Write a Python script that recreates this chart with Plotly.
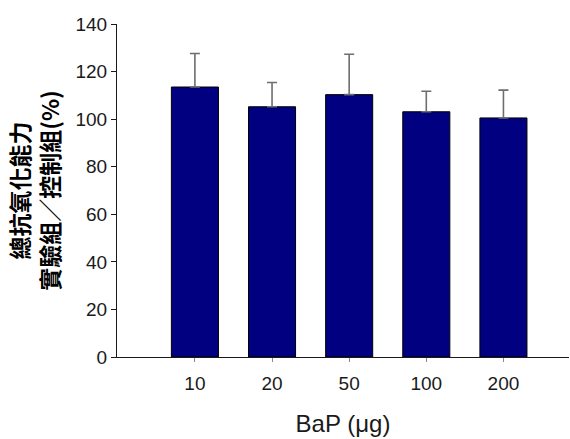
import plotly.graph_objects as go

# BaP dose groups and total antioxidant capacity (experimental / control, %)
doses = ["10", "20", "50", "100", "200"]
capacity = [113.5, 105.2, 110.3, 103.1, 100.5]
capacity_sd = [14.1, 10.2, 17.0, 8.6, 11.7]
y_ticks = [0, 20, 40, 60, 80, 100, 120, 140]

fig = go.Figure()
fig.add_trace(go.Bar(
    x=doses,
    y=capacity,
    width=0.61,
    marker=dict(color="#000080", line=dict(color="#000000", width=1)),
    error_y=dict(
        type="data",
        symmetric=False,
        array=capacity_sd,
        arrayminus=[0] * len(capacity_sd),
        color="#6e6e6e",
        thickness=1.6,
        width=5,
    ),
    showlegend=False,
))

fig.update_layout(
    width=570,
    height=439,
    margin=dict(l=117, r=1, t=23.5, b=82),
    paper_bgcolor="white",
    plot_bgcolor="white",
    font=dict(family="Liberation Sans, Arial, sans-serif", color="#1a1a1a"),
    bargap=0.39,
)

fig.update_xaxes(
    type="category",
    range=[-1.01, 4.85],
    showline=True,
    linecolor="#1a1a1a",
    linewidth=1.2,
    ticks="outside",
    ticklen=4,
    tickcolor="#8a8a8a",
    tickfont=dict(size=19),
    ticklabelstandoff=5,
    showgrid=False,
    title=dict(text="BaP (\u03bcg)", font=dict(size=24), standoff=22),
)

fig.update_yaxes(
    range=[0, 140],
    tickvals=y_ticks,
    showline=True,
    linecolor="#1a1a1a",
    linewidth=1.2,
    ticks="outside",
    ticklen=5,
    tickcolor="#1a1a1a",
    tickfont=dict(size=19),
    showgrid=False,
    zeroline=False,
    title=dict(
        text="<b>總抗氧化能力</b><br><b>實驗組／控制組(%)</b>",
        font=dict(family="Noto Sans CJK TC", size=23, color="#000000"),
        standoff=9,
    ),
)

fig.write_html("out.html")
